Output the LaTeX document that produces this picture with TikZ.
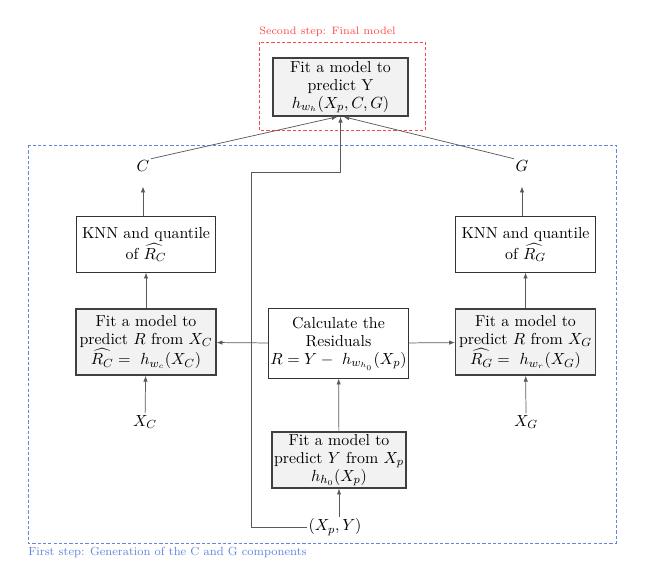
\documentclass[tikz,border=0pt]{standalone}
\usepackage{tikz}
\usetikzlibrary{arrows.meta}
\usepackage{amsmath}
\definecolor{stepred}{RGB}{255,70,70}
\definecolor{stepblue}{RGB}{95,135,220}
\definecolor{boxgray}{RGB}{242,242,242}
\definecolor{linegray}{RGB}{90,90,90}

\begin{document}
\begin{tikzpicture} [
  x=0.68pt, y=-0.68pt,
  every node/.style={font={\fontsize{10.8}{12.2}\selectfont}, align=center},
  procbox/.style={draw=black!80, line width=0.7pt, minimum width=95pt, inner sep=1pt},
  fitbox/.style={procbox, fill=boxgray, draw=black!75, line width=0.9pt},
  varlbl/.style={inner sep=1pt},
  arr/.style={-{Latex[length=4pt,width=3pt]}, draw=linegray, line width=0.5pt},
  steplbl/.style={anchor=west, inner sep=0pt},
  stepframe/.style={line width=0.6pt, dash pattern=on 2.2pt off 1.4pt}
  ]
  \useasboundingbox (0,0) rectangle (654,585);
  % step frames
  \draw [stepframe, stepred] (259,42) rectangle (425,130);
  \node [steplbl, text=stepred, font={\fontsize{7.3}{8}\selectfont}] (lblsecond) at (259,32) {Second step: Final model};
  \draw [stepframe, stepblue] (28,145) rectangle (616,543);
  \node [steplbl, text=stepblue, font=\footnotesize] (lblfirst) at (28,552) {First step: Generation of the C and G components};

  % boxes
  \node (top) [fitbox, minimum width=92pt, minimum height=39.5pt] at (340.5,87)
    {Fit a model to\\ predict Y\\ $h_{w_h}(X_p,C,G)$};
  \node (knnC) [procbox, minimum height=37.5pt] at (146,244.5)
    {KNN and quantile\\ of $\widehat{R_C}$};
  \node (knnG) [procbox, minimum height=37.5pt] at (525.5,244.5)
    {KNN and quantile\\ of $\widehat{R_G}$};
  \node (fitC) [fitbox, minimum height=45pt] at (146,342)
    {Fit a model to\\ predict $R$ from $X_C$\\ $\widehat{R_C} =\ h_{w_c}(X_C)$};
  \node (resid) [procbox, minimum width=92pt, minimum height=47pt] at (338.5,343.5)
    {Calculate the\\ Residuals\\ $R = Y -\ h_{w_{h_0}}(X_p)$};
  \node (fitG) [fitbox, minimum height=45pt] at (525.5,342)
    {Fit a model to\\ predict $R$ from $X_G$\\ $\widehat{R_G} =\ h_{w_r}(X_G)$};
  \node (base) [fitbox, minimum width=91pt, minimum height=38pt] at (339,460)
    {Fit a model to\\ predict $Y$ from $X_p$\\ $h_{h_0}(X_p)$};

  % variables
  \node (C) [varlbl] at (143,166) {$C$};
  \node (G) [varlbl] at (522,166) {$G$};
  \node (XC) [varlbl] at (145,422) {$X_C$};
  \node (XG) [varlbl] at (526,422) {$X_G$};
  \node (XpY) [varlbl] at (335,527) {$(X_p,Y)$};
  \coordinate (bend) at (251,172);

  % connectors
  \draw [arr] (XpY.north -| base) -- (base);
  \draw [arr] (base) -- (resid);
  \draw [arr] (resid) -- (fitC);
  \draw [arr] (resid) -- (fitG);
  \draw [arr] (XC) -- (fitC);
  \draw [arr] (XG) -- (fitG);
  \draw [arr] (fitC) -- (knnC);
  \draw [arr] (fitG) -- (knnG);
  \draw [arr, shorten >=9pt] (knnC.north -| C) -- (C.south);
  \draw [arr, shorten >=9pt] (knnG.north -| G) -- (G.south);
  \draw [arr] (C.north east) -- ([xshift=-2pt]top.south);
  \draw [arr] (G.north west) -- ([xshift=2pt]top.south);
  \draw [arr] (XpY.west) -| (bend) -| (top.south);
\end{tikzpicture}
\end{document}
